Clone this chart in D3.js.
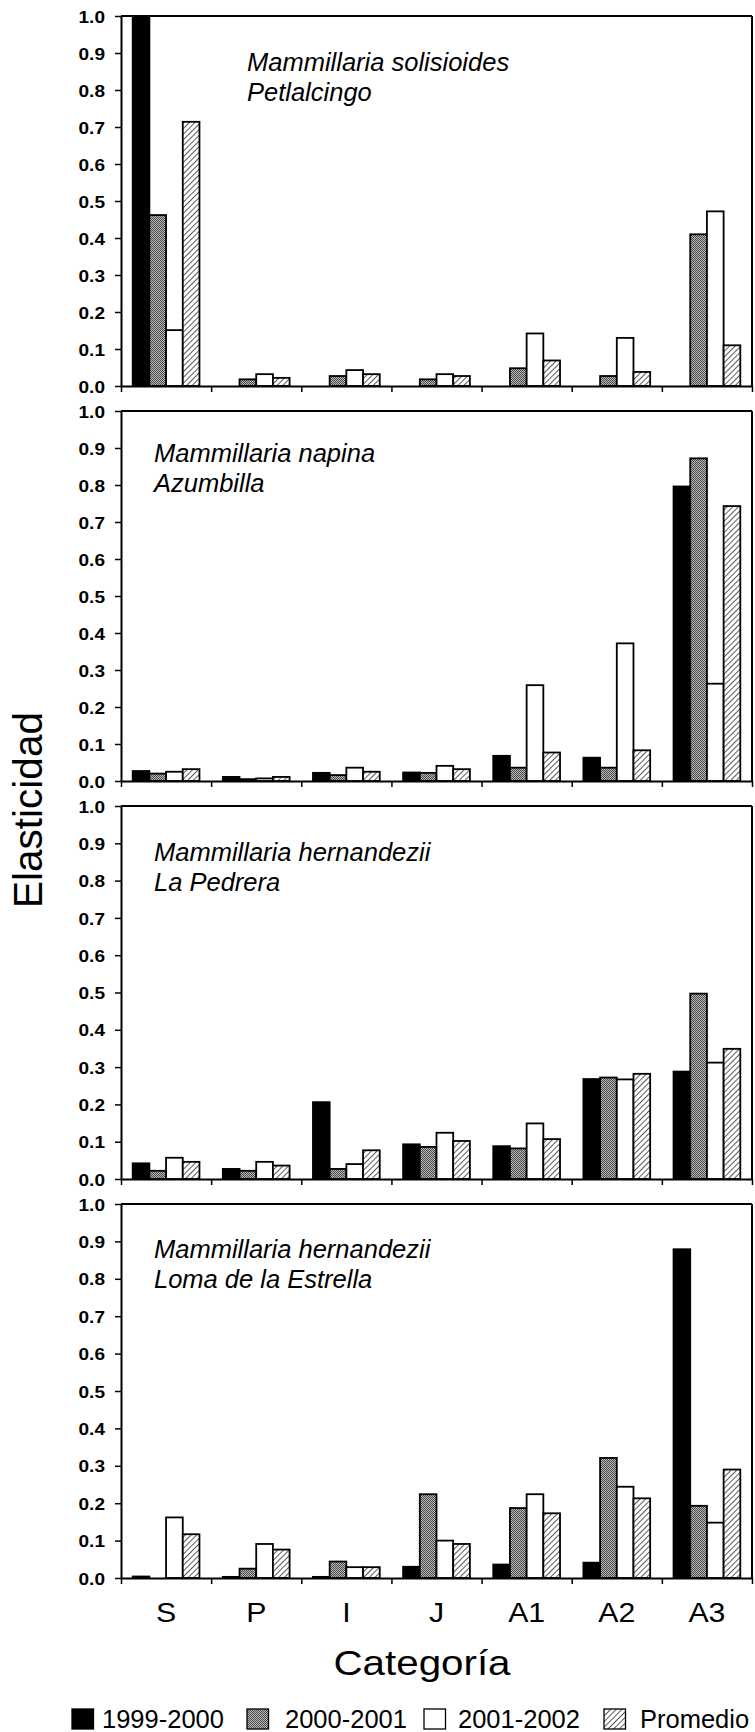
<!DOCTYPE html>
<html><head><meta charset="utf-8">
<script src="https://cdn.jsdelivr.net/npm/d3@7"></script>
<style>
html,body{margin:0;padding:0;background:#fff;}
svg{display:block;font-family:"Liberation Sans",Arial,sans-serif;}
</style></head>
<body>
<svg id="chart" width="755" height="1732"></svg>
<script>
// ---------- data ----------
const categories = ["S","P","I","J","A1","A2","A3"];
const seriesNames = ["1999-2000","2000-2001","2001-2002","Promedio"];
const yTicks = [0,0.1,0.2,0.3,0.4,0.5,0.6,0.7,0.8,0.9,1.0];
const yTickLabels = ["0.0","0.1","0.2","0.3","0.4","0.5","0.6","0.7","0.8","0.9","1.0"];

const panelSpecies = ["Mammillaria solisioides","Mammillaria napina","Mammillaria hernandezii","Mammillaria hernandezii"];
const panelSites = ["Petlalcingo","Azumbilla","La Pedrera","Loma de la Estrella"];

const p1_1999 = [1.000, 0.000, 0.000, 0.000, 0.000, 0.000, 0.000];
const p1_2000 = [0.462, 0.018, 0.027, 0.018, 0.048, 0.027, 0.410];
const p1_2001 = [0.151, 0.032, 0.043, 0.032, 0.142, 0.130, 0.472];
const p1_prom = [0.714, 0.022, 0.032, 0.027, 0.069, 0.038, 0.110];

const p2_1999 = [0.027, 0.011, 0.022, 0.023, 0.068, 0.063, 0.796];
const p2_2000 = [0.020, 0.005, 0.016, 0.022, 0.036, 0.036, 0.872];
const p2_2001 = [0.025, 0.007, 0.036, 0.041, 0.259, 0.372, 0.263];
const p2_prom = [0.032, 0.011, 0.025, 0.032, 0.077, 0.083, 0.743];

const p3_1999 = [0.042, 0.027, 0.206, 0.093, 0.088, 0.268, 0.288];
const p3_2000 = [0.022, 0.022, 0.027, 0.086, 0.082, 0.272, 0.497];
const p3_2001 = [0.057, 0.046, 0.040, 0.124, 0.149, 0.267, 0.312];
const p3_prom = [0.046, 0.036, 0.077, 0.102, 0.107, 0.282, 0.349];

const p4_1999 = [0.004, 0.003, 0.003, 0.030, 0.036, 0.041, 0.879];
const p4_2000 = [0.000, 0.025, 0.044, 0.224, 0.187, 0.321, 0.193];
const p4_2001 = [0.162, 0.091, 0.029, 0.100, 0.224, 0.244, 0.148];
const p4_prom = [0.117, 0.076, 0.029, 0.091, 0.173, 0.213, 0.290];

const panelData = [
  [p1_1999, p1_2000, p1_2001, p1_prom],
  [p2_1999, p2_2000, p2_2001, p2_prom],
  [p3_1999, p3_2000, p3_2001, p3_prom],
  [p4_1999, p4_2000, p4_2001, p4_prom]
];

// ---------- layout ----------
const xLeft = 121, xRight = 752;
const panelTop = [16, 411, 806, 1204];
const panelBottom = [386, 781, 1179, 1578];
const labelX = [247, 154, 154, 154];
const labelDy = [55, 51, 55, 54];

const svg = d3.select("#chart");
const defs = svg.append("defs");

// gray dotted pattern
const pg = defs.append("pattern").attr("id","pgray").attr("patternUnits","userSpaceOnUse")
  .attr("width",2).attr("height",2);
pg.append("rect").attr("width",2).attr("height",2).attr("fill","#b8b8b8");
pg.append("rect").attr("width",1).attr("height",1).attr("fill","#4a4a4a");
pg.append("rect").attr("x",1).attr("y",1).attr("width",1).attr("height",1).attr("fill","#4a4a4a");

// hatch pattern
const ph = defs.append("pattern").attr("id","phatch").attr("patternUnits","userSpaceOnUse")
  .attr("width",4).attr("height",4).attr("patternTransform","rotate(45)");
ph.append("rect").attr("width",4).attr("height",4).attr("fill","#fff");
ph.append("line").attr("x1",0).attr("y1",0).attr("x2",0).attr("y2",4)
  .attr("stroke","#222").attr("stroke-width",1.5);

const fills = ["#000","url(#pgray)","#fff","url(#phatch)"];

const x = d3.scaleBand().domain(categories).range([xLeft, xRight]).padding(0);
const xs = d3.scaleBand().domain(d3.range(4)).range([0, x.bandwidth()])
  .paddingInner(0).paddingOuter(0.7);

panelData.forEach((series, pi) => {
  const y = d3.scaleLinear().domain([0,1]).range([panelBottom[pi], panelTop[pi]]);
  const g = svg.append("g");

  // bars
  series.forEach((vals, si) => {
    g.append("g").selectAll("rect").data(vals).join("rect")
      .attr("x", (d,i) => x(categories[i]) + xs(si))
      .attr("width", xs.bandwidth())
      .attr("y", d => y(d))
      .attr("height", d => y(0) - y(d))
      .attr("fill", fills[si])
      .attr("stroke", "#000")
      .attr("stroke-width", d => d > 0 ? 1.8 : 0);
  });

  // frame top/right
  g.append("line").attr("x1",xLeft).attr("x2",xRight).attr("y1",panelTop[pi]).attr("y2",panelTop[pi])
    .attr("stroke","#000").attr("stroke-width",2);
  g.append("line").attr("x1",xRight).attr("x2",xRight).attr("y1",panelTop[pi]).attr("y2",panelBottom[pi])
    .attr("stroke","#000").attr("stroke-width",2);

  // y axis
  const ya = g.append("g").attr("transform",`translate(${xLeft},0)`)
    .call(d3.axisLeft(y).tickValues(yTicks).tickSizeOuter(0).tickSizeInner(6)
      .tickFormat((d,i) => yTickLabels[i]));
  ya.select(".domain").attr("stroke-width",2);
  ya.selectAll(".tick line").attr("stroke-width",1.5);
  ya.selectAll(".tick text").remove();
  ya.selectAll(".tick").append("text")
    .attr("transform","translate(-16,0) scale(1.12,1)")
    .attr("text-anchor","end").attr("dy","0.36em")
    .attr("fill","#000")
    .style("font-family","'Liberation Sans',Arial,sans-serif")
    .style("font-weight","bold").style("font-size","17px")
    .text((d,i) => yTickLabels[i]);

  // x axis with ticks at category boundaries
  const xb = d3.scaleLinear().domain([0,categories.length]).range([xLeft,xRight]);
  const xa = g.append("g").attr("transform",`translate(0,${panelBottom[pi]})`)
    .call(d3.axisBottom(xb).tickValues(d3.range(categories.length+1)).tickSizeOuter(0)
      .tickSizeInner(6).tickFormat(""));
  xa.select(".domain").attr("stroke-width",2);
  xa.selectAll(".tick line").attr("stroke-width",1.5);

  // species label
  const lt = g.append("text").attr("x",labelX[pi]).attr("y",panelTop[pi]+labelDy[pi])
    .style("font-style","italic").style("font-size","25.5px").attr("fill","#000");
  lt.append("tspan").attr("x",labelX[pi]).text(panelSpecies[pi]);
  lt.append("tspan").attr("x",labelX[pi]).attr("dy",29.5).text(panelSites[pi]);
});

// category labels
svg.append("g").selectAll("text").data(categories).join("text")
  .attr("transform", d => `translate(${x(d)+x.bandwidth()/2},1622) scale(1.1,1)`)
  .attr("text-anchor","middle").style("font-size","27.5px").attr("fill","#000")
  .text(d => d);

// axis titles
svg.append("text").attr("transform","translate(422,1675) scale(1.12,1)")
  .attr("text-anchor","middle").style("font-size","36px").attr("fill","#000")
  .text("Categoría");
svg.append("text").attr("transform","translate(41.5,810) rotate(-90)")
  .attr("text-anchor","middle").style("font-size","40.5px").attr("fill","#000")
  .text("Elasticidad");

// legend
const legSq = [72, 247, 424, 604];
const legTx = [102, 285, 458, 640];
const leg = svg.append("g");
seriesNames.forEach((nm, i) => {
  leg.append("rect").attr("x",legSq[i]).attr("y",1709).attr("width",21.5).attr("height",20)
    .attr("fill",fills[i]).attr("stroke","#000").attr("stroke-width",1.3);
  leg.append("text").attr("x",legTx[i]).attr("y",1728).style("font-size","25.5px")
    .attr("fill","#000").text(nm);
});
</script>
</body></html>
